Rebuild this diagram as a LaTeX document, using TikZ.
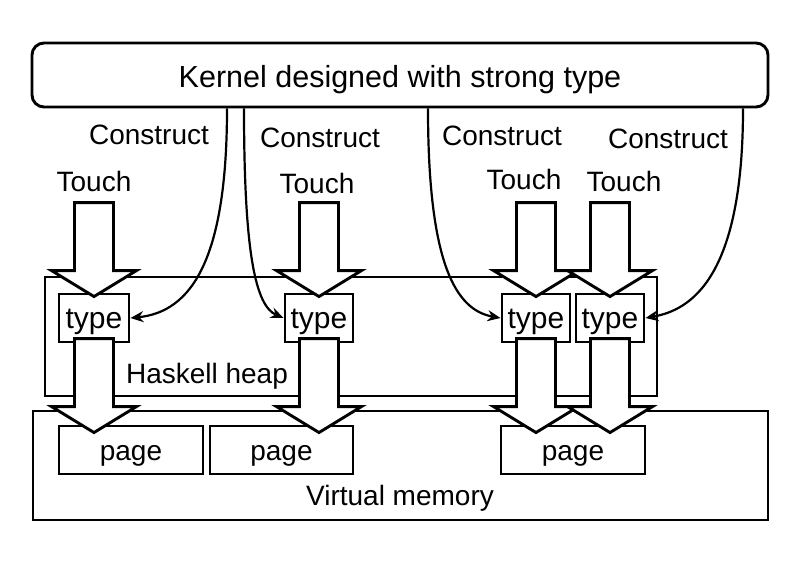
\documentclass[tikz,border=0pt]{standalone}
\usepackage{fontspec}
\setmainfont{Liberation Sans}
\usetikzlibrary{arrows.meta}
\begin{document}
\begin{tikzpicture}[x=1pt,y=-1pt,
  box/.style={draw, line width=2.9pt, inner sep=0pt, fill=white,
    font=\fontsize{28}{34}\selectfont, text height=24pt, text depth=4pt},
  typebox/.style={box, minimum height=48pt, font=\fontsize{30}{36}\selectfont,
    text height=25pt, text depth=4pt},
  lbl/.style={inner sep=0pt, anchor=base, font=\fontsize{28}{34}\selectfont},
  con/.style={line width=2.2pt, -{Stealth[length=13pt,width=11pt]}},
  barrow/.pic={\draw[line width=2.9pt, fill=white, line join=miter]
     (0,0) -- (42.5,-26) -- (19.5,-26) -- (19.5,-94) -- (-19.5,-94)
     -- (-19.5,-26) -- (-42.5,-26) -- cycle;}
]
\useasboundingbox (0,0) rectangle (800,566);

% kernel
\node[box, rounded corners=12pt, minimum width=736pt, minimum height=64pt,
  font=\fontsize{30.5}{36}\selectfont, text height=28pt, text depth=4pt]
  (kern) at (400,75) {Kernel designed with strong type};

% virtual memory and heap
\node[box, minimum width=735pt, minimum height=109pt] (vm) at (400.5,465.5) {};
\node[lbl] (vmt) at (400,505) {Virtual memory};
\node[box, minimum width=612pt, minimum height=119pt] (heap) at (351,336.5) {};
\node[lbl] (heapt) at (207,383) {Haskell heap};

% pages
\node[box, minimum width=144pt, minimum height=48pt] (p1) at (131,450) {page};
\node[box, minimum width=143pt, minimum height=48pt] (p2) at (281.5,450) {page};
\node[box, minimum width=144pt, minimum height=48pt] (p3) at (573,450) {page};

% types
\node[typebox, minimum width=70pt] (t1) at (94,318) {type};
\node[typebox, minimum width=68pt] (t2) at (319,318) {type};
\node[typebox, minimum width=68pt] (t3) at (536,318) {type};
\node[typebox, minimum width=68pt] (t4) at (610,318) {type};

% construct connectors
\draw[con] ([xshift=-173pt]kern.south) .. controls +(0,153) and +(60,-6) .. (t1.east);
\draw[con] ([xshift=-156pt]kern.south) .. controls +(0,145) and +(-28,-12) .. (t2.west);
\draw[con] ([xshift=28pt]kern.south) .. controls +(0,155) and +(-45,-8) .. (t3.west);
\draw[con] ([xshift=343pt]kern.south) .. controls +(0,170) and +(45,-8) .. (t4.east);

% lower block arrows (type -> page)
\pic at ([yshift=-8pt]t1.south |- p1.north) {barrow};
\pic at ([yshift=-8pt]t2.south |- p2.north) {barrow};
\pic at ([yshift=-8pt]t3.south |- p3.north) {barrow};
\pic at ([yshift=-8pt]t4.south |- p3.north) {barrow};

% touch block arrows
\pic at ([yshift=-4pt]t1.north) {barrow};
\pic at ([yshift=-4pt]t2.north) {barrow};
\pic at ([yshift=-4pt]t3.north) {barrow};
\pic at ([yshift=-4pt]t4.north) {barrow};

% labels
\node[lbl] (c1) at (149,144) {Construct};
\node[lbl] (c2) at (320,147) {Construct};
\node[lbl] (c3) at (502,145) {Construct};
\node[lbl] (c4) at (668,148) {Construct};
\node[lbl] (h1) at (94,191) {Touch};
\node[lbl] (h2) at (317,193) {Touch};
\node[lbl] (h3) at (524,189) {Touch};
\node[lbl] (h4) at (624,191) {Touch};
\end{tikzpicture}
\end{document}
